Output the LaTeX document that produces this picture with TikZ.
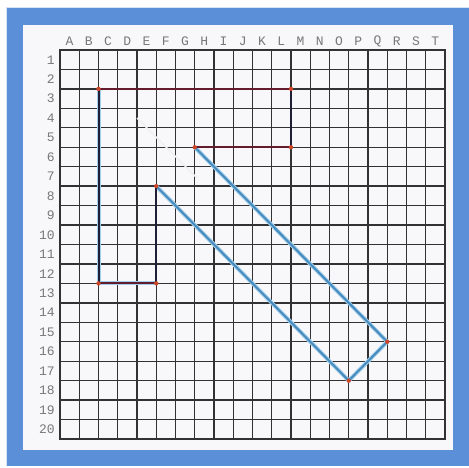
\documentclass[tikz,border=0pt]{standalone}
\usepackage{fontspec}
\newfontfamily\gridfont{Liberation Mono}
\definecolor{framebl}{RGB}{91,143,216}
\definecolor{paper}{RGB}{248,248,250}
\definecolor{gridln}{RGB}{50,50,52}
\definecolor{lblgray}{RGB}{120,120,120}
\definecolor{darkred}{RGB}{100,28,44}
\definecolor{darknavy}{RGB}{30,30,55}
\definecolor{shapeblue}{RGB}{72,140,190}
\definecolor{halo}{RGB}{160,205,235}
\definecolor{dotred}{RGB}{205,70,40}
\tikzset{
  gridline/.style={draw=gridln, line width=1.4pt},
  gridborder/.style={draw=gridln, line width=2.6pt},
  lbl/.style={font=\gridfont\fontsize{13}{13}\selectfont, text=lblgray, inner sep=0pt},
  haloline/.style={draw=halo, line width=4pt},
  rededge/.style={draw=darkred, line width=2pt},
  navyedge/.style={draw=darknavy, line width=2pt},
  blueedge/.style={draw=shapeblue, line width=2pt},
  vdot/.style={fill=dotred, draw=none},
}
\begin{document}
\begin{tikzpicture}[x=1pt,y=-1pt]
\useasboundingbox (0,0) rectangle (469,468);
\fill[white] (0,0) rectangle (469,468);
% frame
\fill[framebl] (6,7) rectangle (469,466);
\draw[white!75!framebl, line width=1pt] (6.5,466) -- (6.5,7.5) -- (469,7.5);
\fill[paper] (23,25) rectangle (453,450);
% grid
\foreach \i in {1,...,19} {
  \draw[gridline] ({60+\i*19.25},50) -- ({60+\i*19.25},439);
}
\foreach \j in {1,...,19} {
  \draw[gridline] (60,{50+\j*19.45}) -- (445,{50+\j*19.45});
}
\draw[gridborder] (60,50) rectangle (445,439);
% faint ghost line
\draw[gray!12, line width=1.5pt] (137,118) -- (197,178);
% column labels
\foreach \L [count=\i from 0] in {A,B,C,D,E,F,G,H,I,J,K,L,M,N,O,P,Q,R,S,T} {
  \node[lbl] (col\i) at ({60+(\i+0.5)*19.25},41) {\L};
}
% row labels
\foreach \j in {1,...,20} {
  \node[lbl, anchor=east] (row\j) at (55,{50+(\j-0.5)*19.45}) {\j};
}
% vertices (grid intersections)
\coordinate (p1) at ({60+2*19.25},{50+2*19.45});
\coordinate (p2) at ({60+12*19.25},{50+2*19.45});
\coordinate (p3) at ({60+12*19.25},{50+5*19.45});
\coordinate (p4) at ({60+7*19.25},{50+5*19.45});
\coordinate (p5) at ({60+17*19.25},{50+15*19.45});
\coordinate (p6) at ({60+15*19.25},{50+17*19.45});
\coordinate (p7) at ({60+5*19.25},{50+7*19.45});
\coordinate (p8) at ({60+5*19.25},{50+12*19.45});
\coordinate (p9) at ({60+2*19.25},{50+12*19.45});
% halos
\draw[haloline] (p9) -- (p1);
\draw[haloline] (p8) -- (p9);
\draw[haloline, line join=round] (p4) -- (p5) -- (p6) -- (p7);
% edges
\draw[rededge] (p1) -- (p2);
\draw[navyedge] (p2) -- (p3);
\draw[rededge] (p3) -- (p4);
\draw[blueedge] (p4) -- (p5);
\draw[blueedge] (p5) -- (p6);
\draw[blueedge] (p6) -- (p7);
\draw[navyedge] (p7) -- (p8);
\draw[rededge] (p8) -- (p9);
\draw[navyedge] (p9) -- (p1);
% vertex dots
\foreach \p in {p1,p2,p3,p4,p5,p6,p7,p8,p9} {
  \fill[vdot] (\p) circle (2.2);
}
\end{tikzpicture}
\end{document}
